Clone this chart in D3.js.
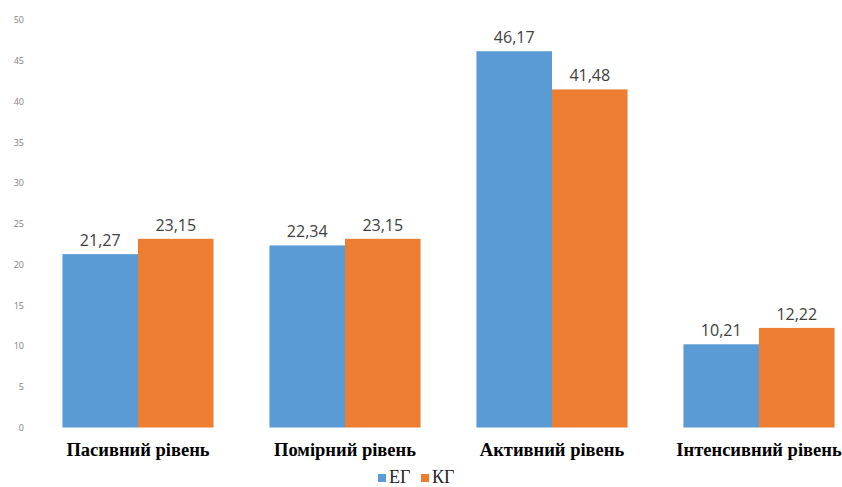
<!DOCTYPE html>
<html>
<head>
<meta charset="utf-8">
<script src="https://cdn.jsdelivr.net/npm/d3@7"></script>
<style>
  html, body { margin: 0; padding: 0; background: #fff; }
  svg { display: block; }
</style>
</head>
<body>
<svg id="chart" width="842" height="487"></svg>
<script>
const categories = ["Пасивний рівень", "Помірний рівень", "Активний рівень", "Інтенсивний рівень"];
const seriesNames = ["ЕГ", "КГ"];
const egValues = [21.27, 22.34, 46.17, 10.21];
const kgValues = [23.15, 23.15, 41.48, 12.22];
const yTicks = [0, 5, 10, 15, 20, 25, 30, 35, 40, 45, 50];
const colors = ["#5B9BD5", "#ED7D31"];

const svg = d3.select("#chart");

const x0 = d3.scaleBand().domain(categories).range([34.5, 862.5]).paddingInner(0.27).paddingOuter(0.135);
const x1 = d3.scaleBand().domain(seriesNames).range([0, x0.bandwidth()]);
const y = d3.scaleLinear().domain([0, 50]).range([427.5, 20]);

const fmt = v => d3.format(".2f")(v).replace(".", ",");

// y axis
const yAxis = d3.axisLeft(y).tickValues(yTicks).tickSize(0).tickPadding(0);
const gy = svg.append("g").attr("transform", "translate(24,0)").call(yAxis);
gy.select(".domain").remove();
gy.selectAll("text")
  .attr("fill", "#7f7f7f")
  .style("font-family", "'Open Sans', 'Liberation Sans', sans-serif")
  .style("font-size", "9px");

const data = categories.map((c, i) => ({ cat: c, vals: [egValues[i], kgValues[i]] }));

const groups = svg.append("g").selectAll("g").data(data).join("g")
  .attr("transform", d => `translate(${x0(d.cat)},0)`);

groups.selectAll("rect").data(d => d.vals.map((v, k) => ({ s: seriesNames[k], v, k })))
  .join("rect")
  .attr("x", d => x1(d.s))
  .attr("width", x1.bandwidth())
  .attr("y", d => y(d.v))
  .attr("height", d => y(0) - y(d.v))
  .attr("fill", d => colors[d.k]);

groups.selectAll("text.val").data(d => d.vals.map((v, k) => ({ s: seriesNames[k], v, k })))
  .join("text")
  .attr("class", "val")
  .attr("x", d => x1(d.s) + x1.bandwidth() / 2)
  .attr("y", d => y(d.v) - 8)
  .attr("text-anchor", "middle")
  .attr("fill", "#404040")
  .style("font-family", "'Open Sans', 'Liberation Sans', sans-serif")
  .style("font-size", "16px")
  .text(d => fmt(d.v));

// category labels
const xAxis = d3.axisBottom(x0).tickSize(0).tickPadding(0);
const gx = svg.append("g").attr("transform", `translate(0,${y(0)})`).call(xAxis);
gx.select(".domain").remove();
gx.selectAll("text")
  .attr("y", 28.5)
  .attr("dy", 0)
  .attr("fill", "#000")
  .style("font-family", "'Liberation Serif', 'Times New Roman', serif")
  .style("font-weight", "bold")
  .style("font-size", "18.5px");

// legend
const legend = svg.append("g").attr("transform", "translate(378,483)");
const items = legend.selectAll("g").data(seriesNames).join("g")
  .attr("transform", (d, i) => `translate(${i * 43},0)`);
items.append("rect").attr("x", 0).attr("y", -9).attr("width", 8).attr("height", 8)
  .attr("fill", (d, i) => colors[i]);
items.append("text").attr("x", 11).attr("y", 0)
  .attr("fill", "#262626")
  .style("font-family", "'Liberation Serif', 'Times New Roman', serif")
  .style("font-size", "18px")
  .text(d => d);
</script>
</body>
</html>
